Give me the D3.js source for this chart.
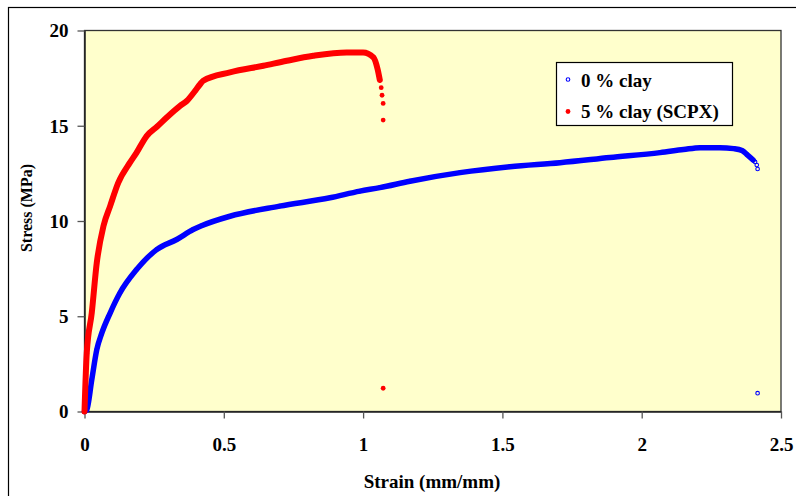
<!DOCTYPE html>
<html>
<head>
<meta charset="utf-8">
<script src="https://cdn.jsdelivr.net/npm/d3@7"></script>
<style>
  html, body { margin: 0; padding: 0; background: #ffffff; }
  svg { display: block; }
  text { font-family: "Liberation Serif", "Times New Roman", serif; font-weight: bold; fill: #000; }
</style>
</head>
<body>
<svg id="chart" width="796" height="496"></svg>
<script>
// Tensile test: 0 % clay (blue, open circles)
const strainClay0 = [0, 0.008, 0.026, 0.044, 0.062, 0.092, 0.127, 0.187, 0.259, 0.331, 0.39, 0.42, 0.522, 0.70, 0.881, 0.989, 1.06, 1.168, 1.348, 1.527, 1.707, 1.886, 2.066, 2.15, 2.21, 2.28, 2.33, 2.36, 2.377, 2.40];
const stressClay0 = [0, 0.08, 1.66, 3.24, 4.11, 5.17, 6.22, 7.45, 8.5, 9.03, 9.55, 9.75, 10.25, 10.78, 11.22, 11.57, 11.75, 12.09, 12.54, 12.85, 13.06, 13.33, 13.59, 13.75, 13.85, 13.85, 13.8, 13.7, 13.5, 13.2];
// points recorded after the break
const strainClay0Break = [2.407, 2.413, 2.416, 2.416];
const stressClay0Break = [13.1, 12.94, 12.73, 0.96];

// Tensile test: 5 % clay (SCPX) (red, filled circles)
const strainClay5 = [0, 0.008, 0.026, 0.044, 0.068, 0.092, 0.121, 0.163, 0.187, 0.223, 0.26, 0.295, 0.343, 0.367, 0.397, 0.415, 0.426, 0.522, 0.642, 0.726, 0.821, 0.941, 1.0, 1.037, 1.052, 1.06];
const stressClay5 = [0, 3.06, 5.17, 7.8, 9.73, 10.78, 12.0, 13.06, 13.59, 14.46, 14.95, 15.43, 16.04, 16.3, 16.83, 17.18, 17.36, 17.8, 18.15, 18.41, 18.67, 18.85, 18.85, 18.59, 17.97, 17.4];
const strainClay5Break = [1.065, 1.068, 1.072, 1.072, 1.072];
const stressClay5Break = [17.0, 16.6, 16.17, 15.3, 1.22];

const xTicks = [0, 0.5, 1, 1.5, 2, 2.5];
const xTickLabels = ["0", "0.5", "1", "1.5", "2", "2.5"];
const yTicks = [0, 5, 10, 15, 20];
const yTickLabels = ["0", "5", "10", "15", "20"];

const seriesNames = ["0 % clay", "5 % clay (SCPX)"];
const xTitle = "Strain (mm/mm)";
const yTitle = "Stress (MPa)";

const svg = d3.select("#chart");

// chart frame
svg.append("rect")
  .attr("x", 8.5).attr("y", 7.5)
  .attr("width", 800).attr("height", 500)
  .attr("fill", "#ffffff").attr("stroke", "#000").attr("stroke-width", 1.2);

const x = d3.scaleLinear().domain([0, 2.5]).range([84.5, 781]);
const y = d3.scaleLinear().domain([0, 20]).range([411.5, 30.5]);

// plot area
svg.append("rect")
  .attr("x", x(0)).attr("y", y(20))
  .attr("width", x(2.5) - x(0)).attr("height", y(0) - y(20))
  .attr("fill", "#FFFFCC").attr("stroke", "#333").attr("stroke-width", 1.3);

// axes
const xAxis = svg.append("g")
  .attr("transform", `translate(0,${y(0)})`)
  .call(d3.axisBottom(x).tickValues(xTicks).tickSize(7).tickSizeOuter(0)
    .tickFormat((d, i) => xTickLabels[i]));
xAxis.select(".domain").attr("stroke", "#222").attr("stroke-width", 1.5);
xAxis.selectAll(".tick line").attr("stroke", "#555").attr("stroke-width", 1.3);
xAxis.selectAll(".tick text")
  .attr("y", 39.5).attr("dy", null)
  .style("font-size", "19px").style("font-family", "Liberation Serif, serif").style("font-weight", "bold");

const yAxis = svg.append("g")
  .attr("transform", `translate(${x(0)},0)`)
  .call(d3.axisLeft(y).tickValues(yTicks).tickSize(7).tickSizeOuter(0)
    .tickFormat((d, i) => yTickLabels[i]));
yAxis.select(".domain").attr("stroke", "#222").attr("stroke-width", 1.5);
yAxis.selectAll(".tick line").attr("stroke", "#555").attr("stroke-width", 1.3);
yAxis.selectAll(".tick text")
  .attr("x", -16).attr("dy", "0.34em")
  .style("font-size", "19px").style("font-family", "Liberation Serif, serif").style("font-weight", "bold");

// axis titles
svg.append("text")
  .attr("x", 432).attr("y", 488)
  .attr("text-anchor", "middle")
  .style("font-size", "19px")
  .text(xTitle);
svg.append("text")
  .attr("transform", "translate(32,208) rotate(-90)")
  .attr("text-anchor", "middle")
  .style("font-size", "16px")
  .text(yTitle);

// curves
const line = d3.line().x(d => x(d[0])).y(d => y(d[1])).curve(d3.curveMonotoneX);
const clay0 = d3.zip(strainClay0, stressClay0);
const clay0Break = d3.zip(strainClay0Break, stressClay0Break);
const clay5 = d3.zip(strainClay5, stressClay5);
const clay5Break = d3.zip(strainClay5Break, stressClay5Break);

svg.append("path").datum(clay0)
  .attr("d", line).attr("fill", "none")
  .attr("stroke", "#0000FF").attr("stroke-width", 5.5)
  .attr("stroke-linejoin", "round").attr("stroke-linecap", "round");
svg.append("g").selectAll("circle").data(clay0.concat(clay0Break)).join("circle")
  .attr("cx", d => x(d[0])).attr("cy", d => y(d[1])).attr("r", 1.8)
  .attr("fill", "none").attr("stroke", "#0000FF").attr("stroke-width", 1.1);

svg.append("path").datum(clay5)
  .attr("d", line).attr("fill", "none")
  .attr("stroke", "#FF0000").attr("stroke-width", 6)
  .attr("stroke-linejoin", "round").attr("stroke-linecap", "round");
svg.append("g").selectAll("circle").data(clay5.concat(clay5Break)).join("circle")
  .attr("cx", d => x(d[0])).attr("cy", d => y(d[1])).attr("r", 2.4)
  .attr("fill", "#FF0000");

// legend
const legend = svg.append("g");
legend.append("rect")
  .attr("x", 556.5).attr("y", 62.5).attr("width", 176).attr("height", 63)
  .attr("fill", "#ffffff").attr("stroke", "#000").attr("stroke-width", 1.2);
legend.append("circle").attr("cx", 568).attr("cy", 79.5).attr("r", 1.8)
  .attr("fill", "none").attr("stroke", "#0000FF").attr("stroke-width", 1.1);
legend.append("circle").attr("cx", 568).attr("cy", 111.5).attr("r", 2.4)
  .attr("fill", "#FF0000");
legend.append("text").attr("x", 581).attr("y", 86.5)
  .style("font-size", "19px").text(seriesNames[0]);
legend.append("text").attr("x", 581).attr("y", 117.5)
  .style("font-size", "19px").text(seriesNames[1]);
</script>
</body>
</html>
